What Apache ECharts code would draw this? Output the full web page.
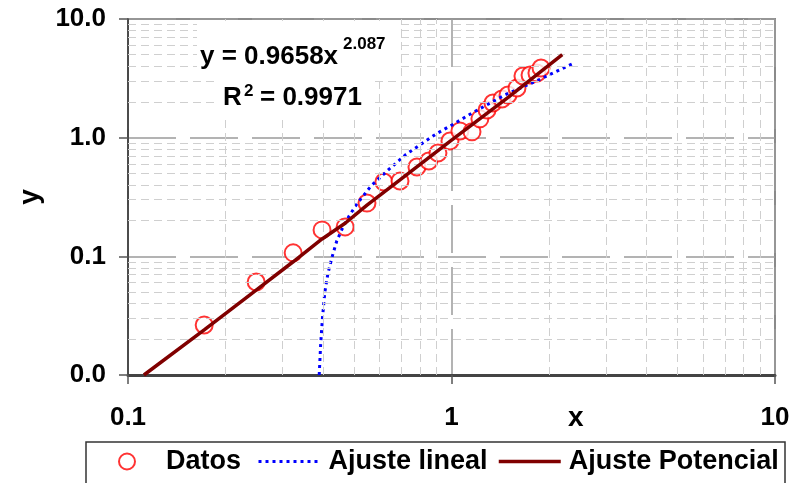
<!DOCTYPE html>
<html lang="es">
<head>
    <meta charset="UTF-8">
    <title>Ajuste potencial</title>
    <script src="https://cdn.jsdelivr.net/npm/echarts@6/dist/echarts.min.js"></script>
    <style>
        html, body { margin: 0; padding: 0; background: #fff; }
        #chart { width: 794px; height: 483px; }
    </style>
</head>
<body>
<div id="chart"></div>
<script type="text/javascript">
    // datos medidos (x, y)
    var datosX = [0.172, 0.249, 0.324, 0.398, 0.469, 0.548, 0.618, 0.693, 0.782, 0.851, 0.908, 0.989,
        1.062, 1.157, 1.224, 1.288, 1.343, 1.432, 1.495, 1.594, 1.663, 1.749, 1.837, 1.891];
    var datosY = [0.0264, 0.0608, 0.107, 0.167, 0.177, 0.281, 0.423, 0.431, 0.566, 0.636, 0.743, 0.937,
        1.14, 1.12, 1.44, 1.71, 1.96, 2.12, 2.29, 2.62, 3.31, 3.37, 3.51, 3.86];

    // curva "Ajuste lineal"
    var linealX = [0.390, 0.394, 0.399, 0.406, 0.415, 0.428, 0.442, 0.459, 0.483, 0.507, 0.563,
        0.640, 0.722, 0.894, 1.028, 1.152, 1.466, 1.853, 2.41];
    var linealY = [0.01, 0.018, 0.03, 0.05, 0.072, 0.1, 0.135, 0.17, 0.22, 0.27, 0.39,
        0.54, 0.72, 1.07, 1.33, 1.6, 2.3, 3.05, 4.3];

    // curva "Ajuste Potencial"
    var potX = [0.112, 0.172, 0.249, 0.324, 0.398, 0.469, 0.548, 0.693, 0.989, 1.5, 2.2];
    var potY = [0.01, 0.024, 0.052, 0.09, 0.14, 0.19, 0.27, 0.44, 0.93, 2.2, 5.0];

    // lineas secundarias de la rejilla
    var xMinor = [0.2, 0.3, 0.4, 0.5, 0.6, 0.7, 0.8, 0.9, 2, 3, 4, 5, 6, 7, 8, 9];
    var yMinor = [0.02, 0.03, 0.04, 0.05, 0.06, 0.07, 0.08, 0.09,
        0.2, 0.3, 0.4, 0.5, 0.6, 0.7, 0.8, 0.9, 2, 3, 4, 5, 6, 7, 8, 9];

    function pares(xs, ys) {
        var out = [];
        for (var i = 0; i < xs.length; i++) {
            out.push([xs[i], ys[i]]);
        }
        return out;
    }

    var fuente = '"Liberation Sans", Arial, sans-serif';
    var chart = echarts.init(document.getElementById('chart'));

    var minorLines = [];
    xMinor.forEach(function (v) { minorLines.push({xAxis: v}); });
    yMinor.forEach(function (v) { minorLines.push({yAxis: v}); });

    // una leyenda por elemento para fijar su posicion
    function leyenda(item, left) {
        return {
            left: left,
            top: 448,
            padding: 0,
            itemWidth: 62,
            itemHeight: 16,
            data: [item],
            textStyle: {
                color: '#000', fontSize: 27, fontWeight: 'bold', fontFamily: fuente,
                padding: [0, 0, 0, 3]
            }
        };
    }

    var option = {
        animation: false,
        backgroundColor: '#fff',
        grid: {
            left: 128, right: 19, top: 19, bottom: 108,
            show: true,
            borderColor: '#8a8a8a',
            borderWidth: 2
        },
        xAxis: {
            type: 'log',
            logBase: 10,
            min: 0.1,
            max: 10,
            axisLine: {lineStyle: {color: '#444', width: 3}},
            axisTick: {length: 9, lineStyle: {color: '#555', width: 1.5}},
            axisLabel: {
                color: '#000', fontSize: 26, fontWeight: 'bold', fontFamily: fuente, margin: 30
            },
            splitLine: {show: true, lineStyle: {color: '#9a9a9a', width: 1.5, type: [48, 14]}}
        },
        yAxis: {
            type: 'log',
            logBase: 10,
            min: 0.01,
            max: 10,
            name: 'y',
            nameLocation: 'middle',
            nameGap: 84,
            nameRotate: 90,
            nameTextStyle: {color: '#000', fontSize: 28, fontWeight: 'bold', fontFamily: fuente},
            axisLine: {lineStyle: {color: '#333', width: 1.5}},
            axisTick: {length: 9, lineStyle: {color: '#555', width: 1.5}},
            axisLabel: {
                color: '#000', fontSize: 26, fontWeight: 'bold', fontFamily: fuente, margin: 22,
                formatter: function (v) { return v.toFixed(1); }
            },
            splitLine: {show: true, lineStyle: {color: '#9a9a9a', width: 1.5, type: [48, 14]}}
        },
        legend: [
            leyenda({name: 'Datos'}, 118),
            leyenda({name: 'Ajuste lineal', itemStyle: {opacity: 0}, lineStyle: {width: 3}}, 257),
            leyenda({name: 'Ajuste Potencial', itemStyle: {opacity: 0}, lineStyle: {width: 3.5}}, 497)
        ],
        graphic: [
            {
                type: 'rect',
                shape: {x: 86, y: 442, width: 699, height: 60},
                style: {fill: 'none', stroke: '#333', lineWidth: 1.5},
                silent: true
            },
            {
                type: 'rect', z: 50,
                shape: {x: 197, y: 21, width: 200, height: 56},
                style: {fill: '#fff'},
                silent: true
            },
            {
                type: 'rect', z: 50,
                shape: {x: 218, y: 77, width: 152, height: 40},
                style: {fill: '#fff'},
                silent: true
            },
            {
                type: 'text', left: 568, top: 404,
                style: {text: 'x', fill: '#000', font: 'bold 28px ' + fuente}
            },
            {
                type: 'text', x: 200, y: 57, z: 60,
                style: {text: 'y = 0.9658x', fill: '#000', font: 'bold 26px ' + fuente,
                    verticalAlign: 'middle'}
            },
            {
                type: 'text', x: 343, y: 44, z: 60,
                style: {text: '2.087', fill: '#000', font: 'bold 17px ' + fuente,
                    verticalAlign: 'middle'}
            },
            {
                type: 'text', x: 223, y: 98, z: 60,
                style: {text: 'R', fill: '#000', font: 'bold 26px ' + fuente,
                    verticalAlign: 'middle'}
            },
            {
                type: 'text', x: 244, y: 91, z: 60,
                style: {text: '2', fill: '#000', font: 'bold 17px ' + fuente,
                    verticalAlign: 'middle'}
            },
            {
                type: 'text', x: 260, y: 98, z: 60,
                style: {text: '= 0.9971', fill: '#000', font: 'bold 26px ' + fuente,
                    verticalAlign: 'middle'}
            }
        ],
        series: [
            {
                name: 'rejilla',
                type: 'line',
                data: [],
                z: 1,
                markLine: {
                    silent: true,
                    symbol: ['none', 'none'],
                    label: {show: false},
                    lineStyle: {color: '#cfcfcf', width: 1, type: [8, 5]},
                    data: minorLines
                }
            },
            {
                name: 'Datos',
                type: 'scatter',
                z: 3,
                symbol: 'emptyCircle',
                symbolSize: 17,
                itemStyle: {color: '#ff0000', borderColor: '#ff0000', borderWidth: 2},
                data: pares(datosX, datosY)
            },
            {
                name: 'Ajuste lineal',
                type: 'line',
                z: 4,
                symbol: 'none',
                itemStyle: {color: '#0000ff'},
                lineStyle: {color: '#0000ff', width: 3, type: [3, 4]},
                data: pares(linealX, linealY)
            },
            {
                name: 'Ajuste Potencial',
                type: 'line',
                z: 5,
                symbol: 'none',
                itemStyle: {color: '#800000'},
                lineStyle: {color: '#800000', width: 3.5},
                data: pares(potX, potY)
            }
        ]
    };
    chart.setOption(option);
</script>
</body>
</html>
